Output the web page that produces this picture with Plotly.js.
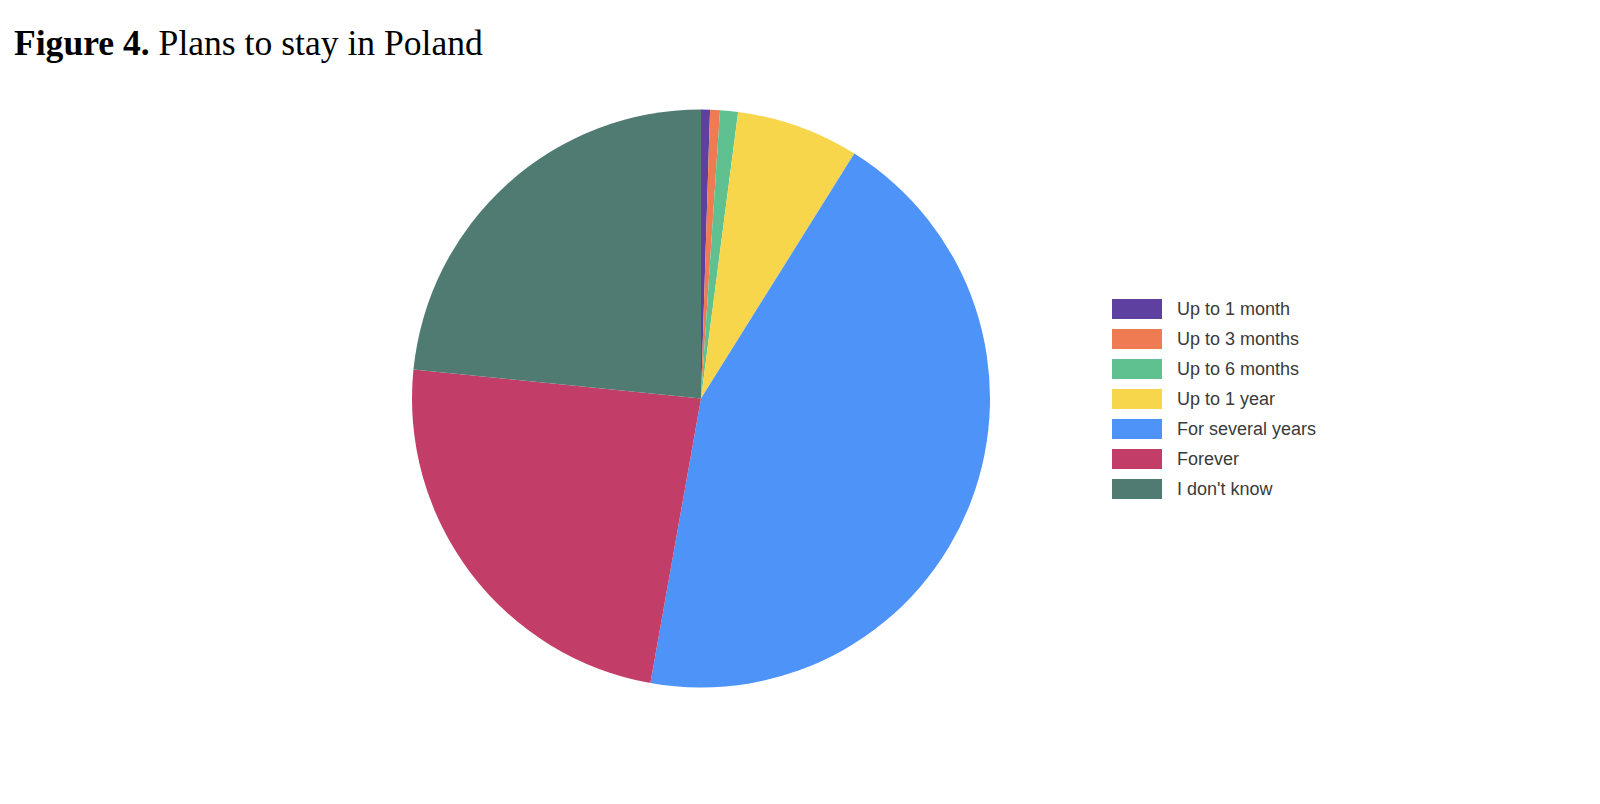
<!DOCTYPE html>
<html>
<head>
<meta charset="utf-8">
<script src="https://cdn.plot.ly/plotly-3.0.1.min.js"></script>
<style>html,body{margin:0;padding:0;background:#fff;}#chart{width:1600px;height:804px;}</style>
</head>
<body>
<div id="chart"></div>
<script>
const categories = ["Up to 1 month", "Up to 3 months", "Up to 6 months", "Up to 1 year", "For several years", "Forever", "I don't know"];
const shares = [0.5, 0.55, 1.0, 6.85, 43.9, 23.8, 23.4];
const colors = ["#5d40a0", "#ee7b51", "#5ec18f", "#f8d64c", "#4d93f8", "#c33d69", "#507b72"];
const titleBold = "Figure 4.";
const titleRest = " Plans to stay in Poland";

const W = 1600, H = 804;
const px = x => x / W;
const py = y => 1 - y / H;

const cx = 701, cy = 398.5, r = 289;

const trace = {
  type: "pie",
  labels: categories,
  values: shares,
  sort: false,
  direction: "clockwise",
  rotation: 0,
  textinfo: "none",
  hoverinfo: "label+percent",
  marker: {colors: colors, line: {width: 0}},
  domain: {x: [px(cx - r), px(cx + r)], y: [py(cy + r), py(cy - r)]},
  showlegend: false
};

const shapes = [];
const annotations = [];
const legendTop = 309, legendStep = 30;
categories.forEach((c, i) => {
  const yc = legendTop + i * legendStep;
  shapes.push({
    type: "rect", xref: "paper", yref: "paper",
    x0: px(1112), x1: px(1162), y0: py(yc + 10), y1: py(yc - 10),
    fillcolor: colors[i], line: {width: 0}
  });
  annotations.push({
    xref: "paper", yref: "paper", x: px(1175), y: py(yc),
    xanchor: "left", yanchor: "middle", showarrow: false,
    text: c, font: {family: "Liberation Sans, Arial, sans-serif", size: 18, color: "#3a3a3a"}
  });
});
annotations.push({
  xref: "paper", yref: "paper", x: px(12), y: py(43),
  xanchor: "left", yanchor: "middle", showarrow: false,
  text: "<b>" + titleBold + "</b>" + titleRest,
  font: {family: "Liberation Serif, Times New Roman, serif", size: 35.6, color: "#000"}
});

const layout = {
  width: W, height: H,
  margin: {l: 0, r: 0, t: 0, b: 0},
  paper_bgcolor: "#fff",
  showlegend: false,
  shapes: shapes,
  annotations: annotations
};

Plotly.newPlot("chart", [trace], layout, {displayModeBar: false, staticPlot: true});
</script>
</body>
</html>
